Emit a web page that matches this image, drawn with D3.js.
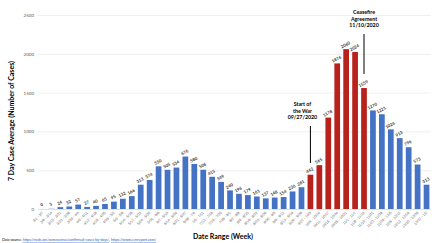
<!DOCTYPE html>
<html>
<head>
<meta charset="utf-8">
<script src="https://cdn.jsdelivr.net/npm/d3@7"></script>
<style>
  body { margin: 0; background: #fff; }
  svg { display: block; font-family: Lato, "Liberation Sans", sans-serif; }
</style>
</head>
<body>
<div id="chart"></div>
<script>
// weekly ranges, 7 day average values
const weeks = ["3/1 - 3/7","3/8 - 3/14","3/15 - 3/21","3/22 - 3/28","3/29 - 4/4","4/5 - 4/11","4/12 - 4/18","4/19 - 4/25","4/26 - 5/2","5/3 - 5/9","5/10 - 5/16","5/17 - 5/23","5/24 - 5/30","5/31 - 6/6","6/7 - 6/13","6/14 - 6/20","6/21 - 6/27","6/28 - 7/4","7/5 - 7/11","7/12 - 7/18","7/19 - 7/25","7/26 - 8/1","8/2 - 8/8","8/9 - 8/15","8/16 - 8/22","8/23 - 8/29","8/30 - 9/5","9/6 - 9/12","9/13 - 9/19","9/20 - 9/26","9/27 - 10/3","10/4 - 10/10","10/11 - 10/17","10/18 - 10/24","10/25 - 10/31","11/1 - 11/7","11/8 - 11/14","11/15 - 11/21","11/22 - 11/28","11/29 - 12/5","12/6 - 12/12","12/13 - 12/19","12/20 - 12/26","12/27 - 1/2"]
const cases = [0,3,24,32,57,27,40,65,95,132,166,313,374,550,505,534,676,580,506,415,349,240,196,179,161,137,148,154,226,281,442,565,1178,1876,2060,2024,1559,1270,1221,1026,913,796,573,313]
// weeks during the war
const warWeeks = ["9/27 - 10/3","10/4 - 10/10","10/11 - 10/17","10/18 - 10/24","10/25 - 10/31","11/1 - 11/7","11/8 - 11/14"]
const yTicks = [0,500,1000,1500,2000,2500]

const data = weeks.map((w,i) => ({week: w, value: cases[i]}))

const width = 440, height = 243
const margin = {top: 15, right: 9, bottom: 34, left: 38}

const svg = d3.select("#chart").append("svg")
    .attr("width", width)
    .attr("height", height)

const xScale = d3.scaleBand()
    .domain(weeks)
    .range([margin.left, width - margin.right])
    .paddingInner(0.36)
    .paddingOuter(0.18)

const yScale = d3.scaleLinear()
    .domain([0, 2500])
    .range([height - margin.bottom, margin.top])

//---------------- grid + y axis
const yAxis = svg.append("g")
    .attr("transform", `translate(${margin.left},0)`)
    .call(d3.axisLeft(yScale).tickValues(yTicks).tickFormat(d3.format("d"))
        .tickSize(-(width - margin.left - margin.right)).tickPadding(4))
yAxis.select(".domain").remove()
yAxis.selectAll(".tick line")
    .attr("stroke", d => d === 0 ? "#d0d0d0" : "#e4e4e4")
    .attr("stroke-width", 0.6)
yAxis.selectAll(".tick text")
    .attr("font-size", 4.5)
    .attr("fill", "#595959")
    .attr("font-family", "Lato, sans-serif")

//---------------- bars
svg.append("g").selectAll("rect")
    .data(data)
    .join("rect")
    .attr("x", d => xScale(d.week))
    .attr("y", d => yScale(d.value))
    .attr("width", xScale.bandwidth())
    .attr("height", d => yScale(0) - yScale(d.value))
    .attr("fill", d => warWeeks.includes(d.week) ? "#b8221c" : "#4472c4")

//---------------- value labels
svg.append("g").selectAll("text")
    .data(data)
    .join("text")
    .attr("transform", d => `translate(${xScale(d.week) + xScale.bandwidth()/2},${yScale(d.value) - 3}) rotate(-28)`)
    .attr("text-anchor", "middle")
    .attr("font-size", 4.3)
    .attr("font-weight", "bold")
    .attr("fill", "#333")
    .text(d => d.value)

//---------------- x axis
const xAxis = svg.append("g")
    .attr("transform", `translate(0,${yScale(0)})`)
    .call(d3.axisBottom(xScale).tickSize(0).tickPadding(0))
xAxis.select(".domain").remove()
xAxis.selectAll(".tick text")
    .attr("font-size", 3.6)
    .attr("fill", "#595959")
    .attr("text-anchor", "end")
    .attr("dy", 0)
    .attr("transform", "translate(1,4) rotate(-45)")

//---------------- axis titles
svg.append("text")
    .attr("transform", `translate(14,121) rotate(-90)`)
    .attr("text-anchor", "middle")
    .attr("font-size", 7)
    .attr("font-weight", "bold")
    .attr("fill", "#000")
    .text("7 Day Case Average (Number of Cases)")

svg.append("text")
    .attr("x", 223)
    .attr("y", 239)
    .attr("text-anchor", "middle")
    .attr("font-size", 7)
    .attr("font-weight", "bold")
    .attr("fill", "#000")
    .text("Date Range (Week)")

//---------------- annotations
const notes = [
  {week: "9/27 - 10/3", lines: ["Start of", "the War", "09/27/2020"], top: 106, lineTop: 126, lineBottom: 163, shift: -8},
  {week: "11/8 - 11/14", lines: ["Ceasefire", "Agreement", "11/10/2020"], top: 14, lineTop: 34, lineBottom: 74, shift: 0}
]
notes.forEach(n => {
  const cx = xScale(n.week) + xScale.bandwidth()/2
  const t = svg.append("text")
      .attr("text-anchor", "middle")
      .attr("font-size", 5.3)
      .attr("font-weight", "bold")
      .attr("fill", "#000")
  n.lines.forEach((l,i) => {
    t.append("tspan").attr("x", cx + n.shift).attr("y", n.top + i * 6.5).text(l)
  })
  svg.append("line")
      .attr("x1", cx).attr("x2", cx)
      .attr("y1", n.lineTop).attr("y2", n.lineBottom)
      .attr("stroke", "#000")
      .attr("stroke-width", 1)
})

//---------------- data source
const src = svg.append("text")
    .attr("x", 2)
    .attr("y", 241)
    .attr("font-size", 3.6)
    .attr("fill", "#000")
src.append("tspan").text("Data source: ")
src.append("tspan").attr("fill", "#1f5bbf").attr("text-decoration", "underline").text("https://ncdc.am/coronavirus/confirmed-cases-by-days/")
src.append("tspan").text(", ")
src.append("tspan").attr("fill", "#1f5bbf").attr("text-decoration", "underline").text("https://www.evnreport.com/")
</script>
</body>
</html>
